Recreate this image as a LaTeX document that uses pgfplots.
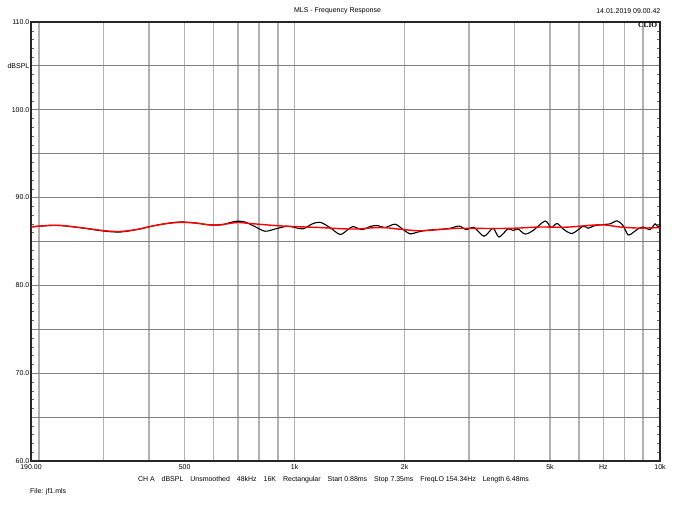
\documentclass[border=0pt]{standalone}
\usepackage{pgfplots}
\pgfplotsset{compat=1.18}
\usepackage{fontspec}
\setmainfont{Liberation Sans}
\newfontfamily\serifbf{Liberation Serif}
\newcommand{\sz}{\fontsize{7}{8}\selectfont}
\begin{document}
\begin{tikzpicture}
\begin{axis}[
  scale only axis, width=629bp, height=439bp,
  xmode=log, xmin=190, xmax=10000, ymin=60, ymax=110,
  xtick={190,200,300,400,500,600,700,800,900,1000,2000,3000,4000,5000,6000,7000,8000,9000,10000},
  xticklabels={190.00,,,,500,,,,,1k,2k,,,5k,,Hz,,,10k},
  ytick={60,65,...,110},
  yticklabels={60.0,,70.0,,80.0,,90.0,,100.0,dBSPL,110.0},
  minor y tick num=4, xminorticks=false,
  grid=major,
  x grid style={color=black!30, line width=1.7bp},
  y grid style={color=black!50, line width=0.9bp},
  major tick length=0pt, minor tick length=3bp,
  tick align=inside, ytick pos=both, xtick pos=bottom,
  minor tick style={black!60, line width=0.5bp},
  axis line style={black!85, line width=1.6bp},
  tick label style={font=\sz, inner sep=0pt},
  xticklabel style={anchor=north, yshift=-3.5bp},
  yticklabel style={anchor=east, xshift=-1.5bp},
  clip=true,
]
\addplot[black, line width=1.1bp, smooth, tension=0.5] coordinates {
(190,86.65) (222,86.84) (259,86.57) (299,86.2) (333,86.08) (373,86.38) (402,86.70) (442,87.03) (486,87.22) (534,87.12) (587,86.88) (633,86.90) (666,87.16) (696,87.31) (732,87.22) (779,86.70) (830,86.17) (884,86.42) (954,86.74) (1003,86.59) (1055,86.44) (1116,86.99) (1174,87.19) (1250,86.59) (1332,85.80) (1400,86.36) (1445,86.70) (1530,86.36) (1609,86.70) (1681,86.82) (1768,86.59) (1883,86.97) (1982,86.36) (2069,85.88) (2177,86.08) (2276,86.25) (2423,86.36) (2647,86.48) (2820,86.76) (2947,86.36) (3099,86.59) (3300,85.60) (3492,86.51) (3627,85.51) (3838,86.44) (3961,86.25) (4087,86.42) (4273,85.85) (4495,86.25) (4847,87.33) (5033,86.59) (5228,87.05) (5428,86.44) (5745,85.91) (6158,86.74) (6354,86.51) (6557,86.74) (6853,86.90) (7300,87.01) (7629,87.35) (7923,86.82) (8178,85.74) (8440,86.02) (8710,86.44) (8989,86.65) (9392,86.36) (9694,87.01) (9878,86.63) (10000,87.01)
};
\addplot[red, line width=1.4bp, smooth, tension=0.6] coordinates {
(190,86.67) (222,86.85) (259,86.59) (299,86.25) (333,86.14) (373,86.40) (402,86.70) (442,87.01) (486,87.18) (534,87.10) (587,86.90) (633,86.93) (696,87.16) (755,87.05) (884,86.82) (1000,86.70) (1174,86.59) (1436,86.42) (1713,86.59) (1982,86.36) (2204,86.22) (2501,86.36) (2820,86.51) (3428,86.48) (3986,86.51) (4697,86.65) (5533,86.63) (6853,86.90) (7775,86.65) (8819,86.53) (10000,86.59)
};
\end{axis}
\node[font=\sz, anchor=center, inner sep=0pt] at ([shift={(306.5bp,11bp)}]current axis.north west) {MLS - Frequency Response};
\node[font=\sz, anchor=east, inner sep=0pt] at ([shift={(0.5bp,11bp)}]current axis.north east) {14.01.2019 09.00.42};
\node[font=\serifbf\fontsize{7.5}{8}\selectfont\bfseries, anchor=north east, inner sep=0pt] at ([shift={(-2.5bp,-0.8bp)}]current axis.north east) {CLIO};
\node[font=\sz, anchor=center, inner sep=0pt] at ([shift={(302.5bp,-19bp)}]current axis.south west) {CH A\hspace{7bp}dBSPL\hspace{7bp}Unsmoothed\hspace{7bp}48kHz\hspace{7bp}16K\hspace{7bp}Rectangular\hspace{7bp}Start 0.88ms\hspace{7bp}Stop 7.35ms\hspace{7bp}FreqLO 154.34Hz\hspace{7bp}Length 6.48ms};
\node[font=\sz, anchor=west, inner sep=0pt] at ([shift={(-1bp,-30.5bp)}]current axis.south west) {File: jf1.mls};
\pgfresetboundingbox
\path ([shift={(-31bp,-45bp)}]current axis.south west) rectangle ([shift={(15bp,22bp)}]current axis.north east);
\end{tikzpicture}
\end{document}
